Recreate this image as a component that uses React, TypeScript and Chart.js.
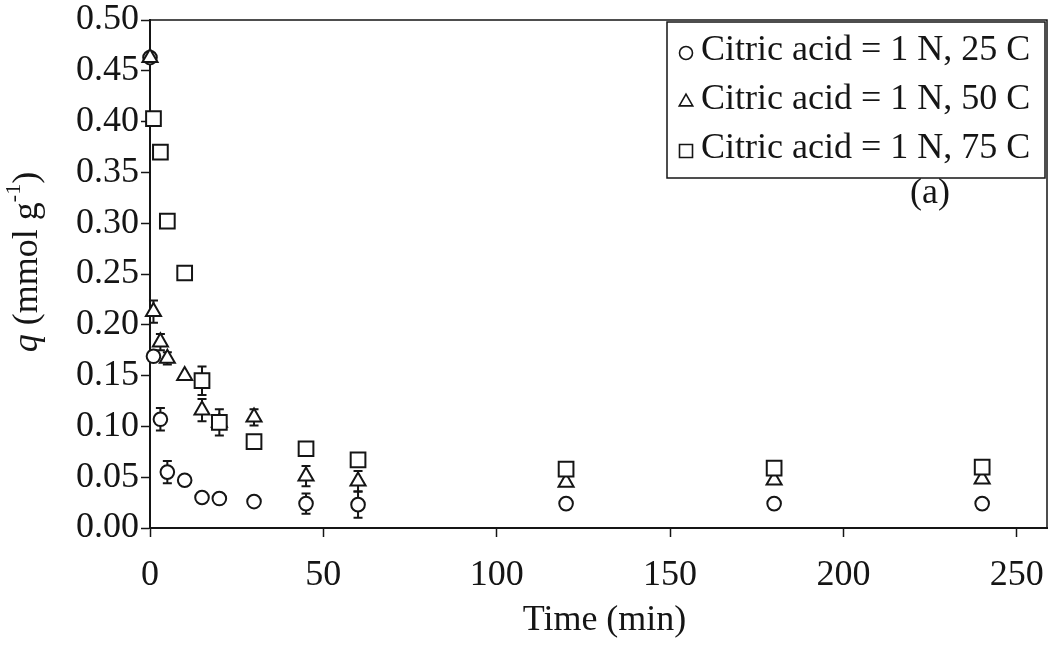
import React, { useEffect, useRef } from "react";
import { Chart, registerables } from "chart.js";

Chart.register(...registerables);

// ---- data ----
const times = [0, 1, 3, 5, 10, 15, 20, 30, 45, 60, 120, 180, 240];
const q25 = [0.463, 0.169, 0.107, 0.055, 0.047, 0.030, 0.029, 0.026, 0.024, 0.023, 0.024, 0.024, 0.024];
const err25 = [0, 0, 0.011, 0.011, 0, 0, 0, 0, 0.010, 0.013, 0, 0, 0];
const q50 = [0.463, 0.213, 0.183, 0.167, 0.150, 0.116, 0.104, 0.109, 0.051, 0.046, 0.045, 0.047, 0.048];
const err50 = [0, 0.011, 0.008, 0.006, 0, 0.011, 0, 0.008, 0.010, 0.010, 0, 0, 0];
const q75 = [null, 0.403, 0.370, 0.302, 0.251, 0.145, 0.104, 0.085, 0.078, 0.067, 0.058, 0.059, 0.060];
const err75 = [0, 0, 0, 0, 0, 0.014, 0.013, 0, 0, 0, 0, 0, 0];

const seriesLabels = [
  "Citric acid = 1 N, 25 C",
  "Citric acid = 1 N, 50 C",
  "Citric acid = 1 N, 75 C",
];
const xTicks = [0, 50, 100, 150, 200, 250];
const yTicks = [0, 0.05, 0.1, 0.15, 0.2, 0.25, 0.3, 0.35, 0.4, 0.45, 0.5];
const xTitle = "Time (min)";
const yTitleVar = "q";
const yTitleUnit = " (mmol g";
const yTitleExp = "-1";
const yTitleEnd = ")";
const panelLabel = "(a)";

const INK = "#151515";
const FONT = "'Liberation Serif', 'Times New Roman', serif";
const FS = 36;

const seriesValues = [q25, q50, q75];
const seriesErrors = [err25, err50, err75];
const seriesStyles = ["circle", "triangle", "rect"];
const seriesRadius = [6.8, 8.7, 10.4];

function drawMarker(ctx: CanvasRenderingContext2D, style: string, x: number, y: number, s: number) {
  ctx.beginPath();
  if (style === "circle") {
    ctx.arc(x, y, s, 0, Math.PI * 2);
  } else if (style === "triangle") {
    const r = s * 1.2;
    ctx.moveTo(x, y - r);
    ctx.lineTo(x + r * 0.866, y + r * 0.5);
    ctx.lineTo(x - r * 0.866, y + r * 0.5);
    ctx.closePath();
  } else {
    ctx.rect(x - s, y - s, 2 * s, 2 * s);
  }
  ctx.fillStyle = "#fff";
  ctx.fill();
  ctx.stroke();
}

const errorBarPlugin = {
  id: "errorBars",
  beforeDatasetsDraw(chart: any) {
    const ctx = chart.ctx;
    const xs = chart.scales.x;
    const ys = chart.scales.y;
    ctx.save();
    ctx.strokeStyle = INK;
    ctx.lineWidth = 2;
    seriesValues.forEach((vals, i) => {
      vals.forEach((v, j) => {
        const e = seriesErrors[i][j];
        if (v == null || !e) return;
        const x = xs.getPixelForValue(times[j]);
        const y1 = ys.getPixelForValue(v + e);
        const y2 = ys.getPixelForValue(v - e);
        ctx.beginPath();
        ctx.moveTo(x, y1);
        ctx.lineTo(x, y2);
        ctx.moveTo(x - 4.5, y1);
        ctx.lineTo(x + 4.5, y1);
        ctx.moveTo(x - 4.5, y2);
        ctx.lineTo(x + 4.5, y2);
        ctx.stroke();
      });
    });
    ctx.restore();
  },
};

const decorPlugin = {
  id: "decor",
  afterDraw(chart: any) {
    const ctx = chart.ctx;
    const a = chart.chartArea;
    ctx.save();
    // frame top & right
    ctx.strokeStyle = INK;
    ctx.lineWidth = 1.5;
    ctx.beginPath();
    ctx.moveTo(a.left, a.top);
    ctx.lineTo(a.right, a.top);
    ctx.lineTo(a.right, a.bottom);
    ctx.stroke();

    // legend box
    const lx = a.left + 517;
    const ly = a.top + 2;
    const lw = a.right - 2 - lx;
    const lh = 156;
    ctx.lineWidth = 1.5;
    ctx.fillStyle = "#fff";
    ctx.fillRect(lx, ly, lw, lh);
    ctx.strokeRect(lx, ly, lw, lh);
    ctx.font = `${FS}px ${FONT}`;
    ctx.textBaseline = "middle";
    ctx.textAlign = "left";
    seriesLabels.forEach((lab, i) => {
      const cy = ly + 29 + i * 49;
      ctx.lineWidth = 1.6;
      ctx.strokeStyle = INK;
      drawMarker(ctx, seriesStyles[i], lx + 19, cy + 2, 6.5);
      ctx.fillStyle = INK;
      ctx.fillText(lab, lx + 34, cy);
    });

    // panel label
    ctx.font = `${FS}px ${FONT}`;
    ctx.textAlign = "center";
    ctx.fillStyle = INK;
    ctx.fillText(panelLabel, a.left + 780, a.top + 174);

    // x-axis title
    ctx.textBaseline = "middle";
    ctx.fillText(xTitle, (a.left + a.right) / 2 + 6, a.bottom + 93);

    // y-axis title (rotated)
    ctx.translate(28, 262);
    ctx.rotate(-Math.PI / 2);
    ctx.textAlign = "left";
    ctx.textBaseline = "middle";
    const big = FS;
    const small = 22;
    ctx.font = `italic ${big}px ${FONT}`;
    const w1 = ctx.measureText(yTitleVar).width;
    ctx.font = `${big}px ${FONT}`;
    const w2 = ctx.measureText(yTitleUnit).width;
    const w4 = ctx.measureText(yTitleEnd).width;
    ctx.font = `${small}px ${FONT}`;
    const w3 = ctx.measureText(yTitleExp).width;
    let x = -(w1 + w2 + w3 + w4) / 2;
    ctx.font = `italic ${big}px ${FONT}`;
    ctx.fillText(yTitleVar, x, 0);
    x += w1;
    ctx.font = `${big}px ${FONT}`;
    ctx.fillText(yTitleUnit, x, 0);
    x += w2;
    ctx.font = `${small}px ${FONT}`;
    ctx.fillText(yTitleExp, x, -14);
    x += w3;
    ctx.font = `${big}px ${FONT}`;
    ctx.fillText(yTitleEnd, x, 0);
    ctx.restore();
  },
};

export default function App() {
  const ref = useRef<HTMLCanvasElement>(null);
  useEffect(() => {
    const datasets = seriesValues.map((vals, i) => ({
      label: seriesLabels[i],
      data: times
        .map((t, j) => (vals[j] == null ? null : { x: t, y: vals[j] as number }))
        .filter((p) => p !== null),
      pointStyle: seriesStyles[i],
      pointRadius: seriesRadius[i],
      pointBorderWidth: 2,
      pointBorderColor: INK,
      pointBackgroundColor: "#fff",
      showLine: false,
      clip: false as any,
      order: 2 - i,
    }));
    const chart = new Chart(ref.current!, {
      type: "scatter",
      data: { datasets } as any,
      options: {
        animation: false,
        responsive: false,
        devicePixelRatio: 1,
        layout: { autoPadding: false, padding: { left: 0, right: 6, top: 20, bottom: 0 } } as any,
        plugins: { legend: { display: false }, tooltip: { enabled: false } },
        scales: {
          x: {
            type: "linear",
            min: 0,
            max: 258.7,
            afterBuildTicks: (s: any) => {
              s.ticks = xTicks.map((v) => ({ value: v }));
            },
            afterFit: (s: any) => {
              s.height = 125;
              s.paddingLeft = 0;
              s.paddingRight = 0;
            },
            grid: {
              drawOnChartArea: false,
              drawTicks: true,
              tickLength: 9,
              tickColor: INK,
              tickWidth: 1.5,
            },
            border: { display: true, color: INK, width: 2 },
            ticks: {
              color: INK,
              padding: 17,
              font: { family: FONT, size: FS },
              maxRotation: 0,
              callback: (v: any) => String(v),
            },
            title: { display: false },
          },
          y: {
            type: "linear",
            min: 0,
            max: 0.5,
            afterBuildTicks: (s: any) => {
              s.ticks = yTicks.map((v) => ({ value: v }));
            },
            afterFit: (s: any) => {
              s.width = 150;
              s.paddingTop = 0;
              s.paddingBottom = 0;
            },
            grid: {
              drawOnChartArea: false,
              drawTicks: true,
              tickLength: 9,
              tickColor: INK,
              tickWidth: 1.5,
            },
            border: { display: true, color: INK, width: 2 },
            ticks: {
              color: INK,
              padding: 2,
              font: { family: FONT, size: FS },
              callback: (v: any) => Number(v).toFixed(2),
            },
          },
        },
      },
      plugins: [errorBarPlugin, decorPlugin],
    });
    return () => chart.destroy();
  }, []);
  return (
    <div style={{ position: "fixed", left: 0, top: 0, width: 1053, height: 653, background: "#fff" }}>
      <canvas ref={ref} width={1053} height={653} style={{ display: "block" }} />
    </div>
  );
}
